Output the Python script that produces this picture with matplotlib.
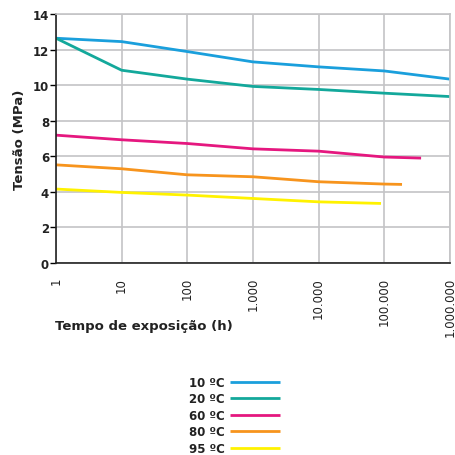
import numpy as np
import matplotlib.pyplot as plt
from matplotlib.ticker import FixedLocator, NullLocator

# exposure time (h) and stress (MPa)
hours = [1, 10, 100, 1000, 10000, 100000, 1000000]
s10 = [12.64, 12.45, 11.89, 11.31, 11.03, 10.80, 10.34]
s20 = [12.64, 10.84, 10.34, 9.93, 9.76, 9.55, 9.36]
hours60 = [1, 10, 100, 1000, 10000, 100000, 363000]
s60 = [7.19, 6.93, 6.72, 6.42, 6.29, 5.96, 5.90]
hours80 = [1, 10, 100, 1000, 10000, 100000, 186000]
s80 = [5.52, 5.30, 4.96, 4.85, 4.57, 4.44, 4.42]
hours95 = [1, 10, 100, 1000, 10000, 89000]
s95 = [4.16, 3.97, 3.82, 3.63, 3.44, 3.35]

labels = ['10 ºC', '20 ºC', '60 ºC', '80 ºC', '95 ºC']
colors = ['#1a9fdc', '#13a89b', '#e5177f', '#f7941d', '#fff200']
xtick_labels = ['1', '10', '100', '1.000', '10.000', '100.000', '1.000.000']

fig = plt.figure(figsize=(4.56, 4.56), dpi=100)
ax = fig.add_axes([0.1228, 0.421, 0.864, 0.546])

series = [(hours, s10), (hours, s20), (hours60, s60), (hours80, s80), (hours95, s95)]
for (xs, ys), lab, col in zip(series, labels, colors):
    ax.plot(xs, ys, color=col, lw=2, label=lab, solid_capstyle='butt')

ax.set_xscale('log')
ax.set_xlim(1, 1e6)
ax.set_ylim(0, 14)
ax.xaxis.set_major_locator(FixedLocator(hours))
ax.xaxis.set_minor_locator(NullLocator())
ax.set_xticklabels(xtick_labels, rotation=90, fontsize=8.5,
                   color='#222222', va='top', ha='center')
ax.set_yticks(range(0, 15, 2))
ax.set_yticklabels([str(v) for v in range(0, 15, 2)], fontsize=8.5,
                   fontweight='bold', color='#222222')
ax.tick_params(axis='x', length=0, pad=10)
ax.tick_params(axis='y', length=4, width=1, pad=1)

ax.grid(True, color='#c4c4c6', lw=1.2)
ax.set_axisbelow(True)
for s in ['top', 'right']:
    ax.spines[s].set_color('#c4c4c6')
    ax.spines[s].set_linewidth(1.2)
for s in ['left', 'bottom']:
    ax.spines[s].set_color('#222222')
    ax.spines[s].set_linewidth(1.2)

ax.set_ylabel('Tensão (MPa)', fontsize=9.5, fontweight='bold', color='#222222',
              labelpad=5)
fig.text(0.121, 0.283, 'Tempo de exposição (h)', fontsize=9.5,
         fontweight='bold', color='#222222', ha='left', va='center')

leg = fig.legend(loc='center', bbox_to_anchor=(0.514, 0.087), frameon=False,
                 markerfirst=False, fontsize=8.5, handlelength=4.2,
                 labelspacing=0.3, handletextpad=0.5, borderpad=0)
for t in leg.get_texts():
    t.set_fontweight('bold')
    t.set_color('#222222')

fig.savefig('out.png', dpi=100)
